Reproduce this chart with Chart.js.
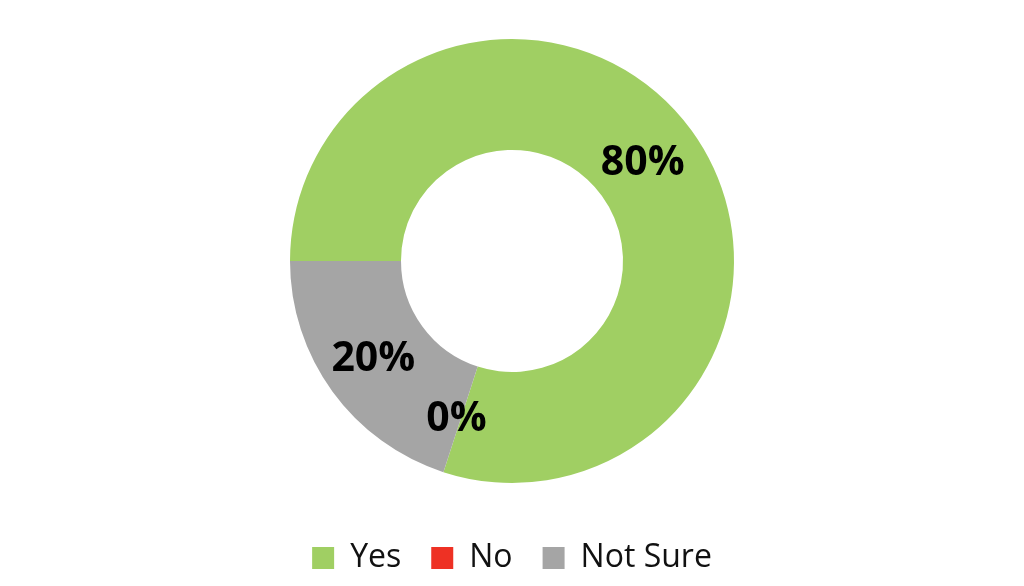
<!DOCTYPE html>
<html>
<head>
<meta charset="utf-8">
<script src="https://cdn.jsdelivr.net/npm/chart.js@4.4.1/dist/chart.umd.min.js"></script>
<style>
  html, body { margin: 0; padding: 0; background: #ffffff; }
  #wrap { width: 1024px; height: 586px; position: relative; }
</style>
</head>
<body>
<div id="wrap"><canvas id="c" width="1024" height="586"></canvas></div>
<script>
const categories = ['Yes', 'No', 'Not Sure'];
const values = [80, 0, 20];
const valueLabels = ['80%', '0%', '20%'];
const colors = ['#A0CF63', '#EE3124', '#A5A5A5'];

const labelPlugin = {
  id: 'sliceLabels',
  afterDatasetsDraw(chart) {
    const ctx = chart.ctx;
    const meta = chart.getDatasetMeta(0);
    ctx.save();
    ctx.font = 'bold 41px "Open Sans", "Liberation Sans", sans-serif';
    ctx.fillStyle = '#000000';
    ctx.textAlign = 'center';
    ctx.textBaseline = 'middle';
    meta.data.forEach((arc, i) => {
      const p = arc.tooltipPosition();
      ctx.fillText(valueLabels[i], p.x - 4, p.y);
    });
    ctx.restore();
  }
};

const legendPlacer = {
  id: 'legendPlacer',
  afterInit(chart) {
    const lg = chart.legend;
    const origFit = lg.fit.bind(lg);
    lg.fit = function () {
      origFit();
      this.height = 103;
      this.minSize = { width: this.width, height: 103 };
    };
  },
  afterLayout(chart) {
    const lg = chart.legend;
    lg.top += 29;
    lg.bottom += 29;
  }
};

new Chart(document.getElementById('c'), {
  type: 'doughnut',
  data: {
    labels: categories,
    datasets: [{
      data: values,
      backgroundColor: colors,
      borderWidth: 0
    }]
  },
  options: {
    responsive: false,
    animation: false,
    rotation: -90,
    cutout: '50%',
    layout: { padding: { top: 39, bottom: 0 } },
    plugins: {
      tooltip: { enabled: false },
      legend: {
        position: 'bottom',
        labels: {
          boxWidth: 22,
          boxHeight: 22,
          padding: 30,
          color: '#111111',
          font: { family: '"Open Sans", "Liberation Sans", sans-serif', size: 32 }
        }
      }
    }
  },
  plugins: [labelPlugin, legendPlacer]
});
</script>
</body>
</html>
